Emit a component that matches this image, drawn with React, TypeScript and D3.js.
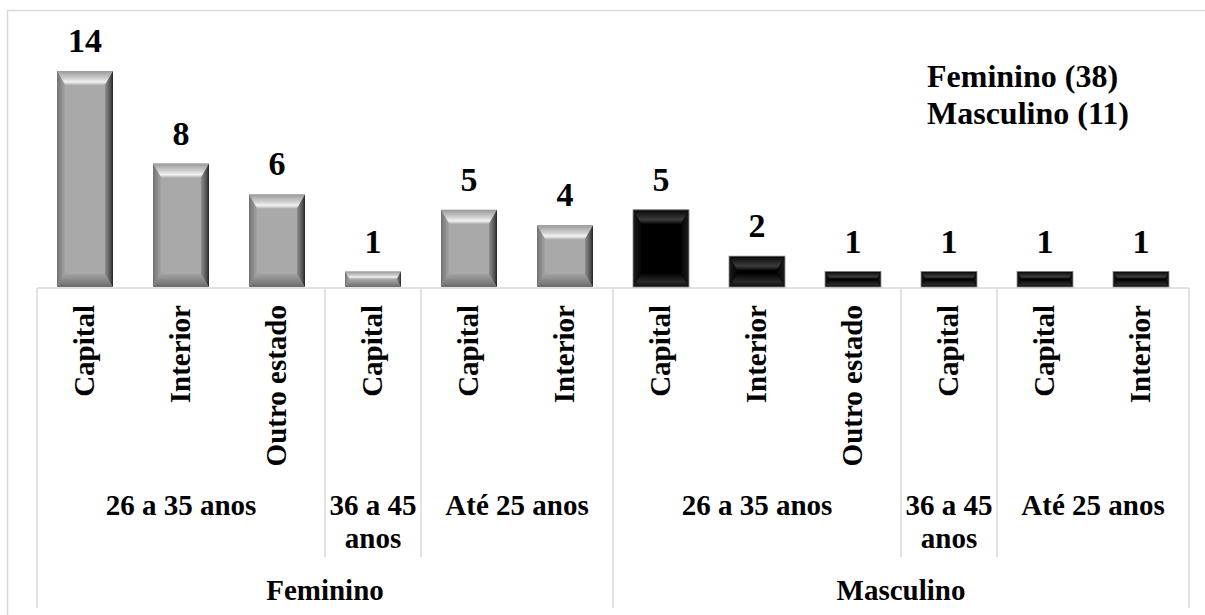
import React from "react";
import * as d3 from "d3";

const sexLabels = ["Feminino","Feminino","Feminino","Feminino","Feminino","Feminino","Masculino","Masculino","Masculino","Masculino","Masculino","Masculino"];
const ageLabels = ["26 a 35 anos","26 a 35 anos","26 a 35 anos","36 a 45 anos","Até 25 anos","Até 25 anos","26 a 35 anos","26 a 35 anos","26 a 35 anos","36 a 45 anos","Até 25 anos","Até 25 anos"];
const placeLabels = ["Capital","Interior","Outro estado","Capital","Capital","Interior","Capital","Interior","Outro estado","Capital","Capital","Interior"];
const values = [14, 8, 6, 1, 5, 4, 5, 2, 1, 1, 1, 1];
const legendLines = ["Feminino (38)", "Masculino (11)"];

const W = 1205;
const H = 615;
const FONT = "'Liberation Serif', 'Times New Roman', serif";
const AXIS_Y = 288;
const PLOT_L = 37;
const PLOT_R = 1189;
const GRID = "#d9d9d9";

function Bar({ x, y, w, h, dark }: { x: number; y: number; w: number; h: number; dark: boolean }) {
  const bt = Math.min(14, h * 0.47);
  const bb = Math.min(13, h * 0.45);
  const bs = 8 * Math.min(1, bt / 14);
  const x1 = x + w;
  const y1 = y + h;
  const p = dark ? "dk" : "lt";
  const pts = (a: number[][]) => a.map((q) => q.join(",")).join(" ");
  return (
    <g>
      <rect x={x} y={y} width={w} height={h} fill={dark ? "#000" : "#a9a9a9"} />
      <polygon points={pts([[x, y], [x1, y], [x1 - bs, y + bt], [x + bs, y + bt]])} fill={`url(#${p}Top)`} />
      <polygon points={pts([[x, y1], [x1, y1], [x1 - bs, y1 - bb], [x + bs, y1 - bb]])} fill={`url(#${p}Bot)`} />
      <polygon points={pts([[x, y], [x + bs, y + bt], [x + bs, y1 - bb], [x, y1]])} fill={`url(#${p}Left)`} />
      <polygon points={pts([[x1, y], [x1 - bs, y + bt], [x1 - bs, y1 - bb], [x1, y1]])} fill={`url(#${p}Right)`} />
      {dark && <rect x={x} y={y} width={w} height={h} fill="none" stroke="#8a8a8a" strokeWidth={0.8} />}
    </g>
  );
}

export default function App() {
  const idx = values.map((_, i) => i);
  const x = d3.scaleBand<number>().domain(idx).range([PLOT_L, PLOT_R]).paddingInner(0.417).paddingOuter(0.2085);
  const y = d3.scaleLinear().domain([0, 14]).range([AXIS_Y - 1, 71]);
  const step = x.step();

  // boundaries
  const sexBounds: number[] = [PLOT_L];
  const ageBounds: number[] = [];
  for (let i = 1; i < values.length; i++) {
    const bx = PLOT_L + i * step;
    if (sexLabels[i] !== sexLabels[i - 1]) sexBounds.push(bx);
    else if (ageLabels[i] !== ageLabels[i - 1]) ageBounds.push(bx);
  }
  sexBounds.push(PLOT_R);

  // groups
  type Grp = { label: string; start: number; end: number };
  const makeGroups = (keyFn: (i: number) => string, labFn: (i: number) => string): Grp[] => {
    const out: Grp[] = [];
    idx.forEach((i) => {
      const last = out[out.length - 1];
      if (last && keyFn(i) === keyFn(i - 1)) last.end = i;
      else out.push({ label: labFn(i), start: i, end: i });
    });
    return out;
  };
  const ageGroups = makeGroups((i) => sexLabels[i] + "|" + ageLabels[i], (i) => ageLabels[i]);
  const sexGroups = makeGroups((i) => sexLabels[i], (i) => sexLabels[i]);
  const gc = (g: Grp) => PLOT_L + ((g.start + g.end + 1) / 2) * step;

  return (
    <svg width={W} height={H} style={{ position: "absolute", left: 0, top: 0 }} fontFamily={FONT} fontWeight="bold">
      <defs>
        <linearGradient id="ltTop" x1="0" y1="0" x2="0" y2="1">
          <stop offset="0" stopColor="#9a9a9a" />
          <stop offset="0.55" stopColor="#d2d2d2" />
          <stop offset="0.78" stopColor="#f2f2f2" />
          <stop offset="1" stopColor="#b4b4b4" />
        </linearGradient>
        <linearGradient id="ltBot" x1="0" y1="0" x2="0" y2="1">
          <stop offset="0" stopColor="#a2a2a2" />
          <stop offset="1" stopColor="#6c6c6c" />
        </linearGradient>
        <linearGradient id="ltLeft" x1="0" y1="0" x2="1" y2="0">
          <stop offset="0" stopColor="#727272" />
          <stop offset="1" stopColor="#a4a4a4" />
        </linearGradient>
        <linearGradient id="ltRight" x1="0" y1="0" x2="1" y2="0">
          <stop offset="0" stopColor="#8e8e8e" />
          <stop offset="0.6" stopColor="#5a5a5a" />
          <stop offset="1" stopColor="#262626" />
        </linearGradient>
        <linearGradient id="dkTop" x1="0" y1="0" x2="0" y2="1">
          <stop offset="0" stopColor="#050505" />
          <stop offset="0.7" stopColor="#3c3c3c" />
          <stop offset="1" stopColor="#0c0c0c" />
        </linearGradient>
        <linearGradient id="dkBot" x1="0" y1="0" x2="0" y2="1">
          <stop offset="0" stopColor="#050505" />
          <stop offset="0.6" stopColor="#2a2a2a" />
          <stop offset="1" stopColor="#0a0a0a" />
        </linearGradient>
        <linearGradient id="dkLeft" x1="0" y1="0" x2="1" y2="0">
          <stop offset="0" stopColor="#1a1a1a" />
          <stop offset="1" stopColor="#050505" />
        </linearGradient>
        <linearGradient id="dkRight" x1="0" y1="0" x2="1" y2="0">
          <stop offset="0" stopColor="#050505" />
          <stop offset="1" stopColor="#1c1c1c" />
        </linearGradient>
      </defs>
      <rect x={0} y={0} width={W} height={H} fill="#fff" />
      <rect x={7.5} y={10.5} width={W + 10} height={H + 10} fill="none" stroke={GRID} strokeWidth={1.5} />

      {/* axis lines */}
      <line x1={PLOT_L} x2={PLOT_R} y1={AXIS_Y} y2={AXIS_Y} stroke={GRID} strokeWidth={1.5} />
      {sexBounds.map((bx, i) => (
        <line key={"s" + i} x1={bx} x2={bx} y1={AXIS_Y} y2={608} stroke={GRID} strokeWidth={1.5} />
      ))}
      {ageBounds.map((bx, i) => (
        <line key={"a" + i} x1={bx} x2={bx} y1={AXIS_Y} y2={557} stroke={GRID} strokeWidth={1.5} />
      ))}

      {/* bars */}
      {values.map((v, i) => {
        const bx = x(i) as number;
        const top = y(v);
        return <Bar key={i} x={bx} y={top} w={x.bandwidth()} h={y(0) - top} dark={sexLabels[i] === "Masculino"} />;
      })}

      {/* value labels */}
      {values.map((v, i) => (
        <text key={"v" + i} x={(x(i) as number) + x.bandwidth() / 2} y={y(v) - 19} textAnchor="middle" fontSize={34} fill="#000">
          {v}
        </text>
      ))}

      {/* category labels */}
      {placeLabels.map((p, i) => {
        const cx = (x(i) as number) + x.bandwidth() / 2 + 9;
        return (
          <text key={"c" + i} transform={`translate(${cx},305) rotate(-90)`} textAnchor="end" fontSize={29} fill="#000">
            {p}
          </text>
        );
      })}

      {/* age group labels */}
      {ageGroups.map((g, i) => {
        const cx = gc(g);
        const width = (g.end - g.start + 1) * step;
        const words = g.label.split(" ");
        const lines = width < 150 ? [words.slice(0, 3).join(" "), words.slice(3).join(" ")] : [g.label];
        return (
          <text key={"g" + i} x={cx} y={515} textAnchor="middle" fontSize={29} fill="#000">
            {lines.map((l, j) => (
              <tspan key={j} x={cx} y={515 + j * 33}>{l}</tspan>
            ))}
          </text>
        );
      })}

      {/* sex labels */}
      {sexGroups.map((g, i) => (
        <text key={"x" + i} x={gc(g)} y={600} textAnchor="middle" fontSize={29} fill="#000">
          {g.label}
        </text>
      ))}

      {/* legend text */}
      {legendLines.map((l, i) => (
        <text key={"l" + i} x={927} y={87 + i * 37} fontSize={32} fill="#000">
          {l}
        </text>
      ))}
    </svg>
  );
}
